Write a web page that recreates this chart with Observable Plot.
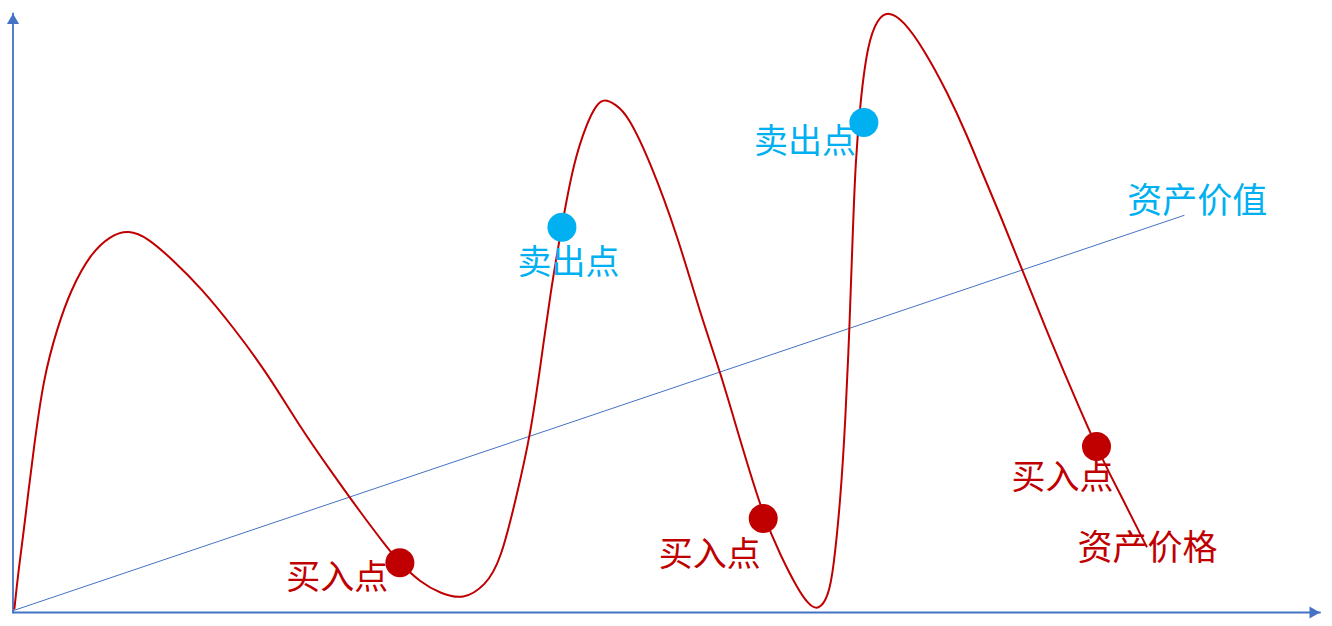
<!DOCTYPE html>
<html>
<head>
<meta charset="utf-8">
<script src="https://cdn.jsdelivr.net/npm/d3@7"></script>
<script src="https://cdn.jsdelivr.net/npm/@observablehq/plot@0.6"></script>
<style>
  html, body { margin: 0; padding: 0; background: #fff; }
  #chart svg { display: block; }
</style>
</head>
<body>
<div id="chart"></div>
<script>
// Asset price curve (time, price) in abstract units (0..100)
const priceT = [0.11, 0.42, 0.80, 1.19, 1.57, 2.33, 3.40, 4.40, 5.93, 7.46, 8.84, 10.29, 12.28, 14.35, 16.87, 19.47, 21.99, 24.29, 26.59, 28.50, 29.57, 31.18, 32.71, 34.47, 36.15, 37.30, 38.60, 39.59, 40.36, 41.12, 41.97, 42.88, 43.96, 44.64, 45.26, 46.10, 47.02, 48.78, 50.84, 52.60, 54.13, 55.66, 57.42, 58.72, 60.02, 60.86, 61.63, 62.39, 62.78, 63.31, 63.69, 64.00, 64.23, 64.46, 64.84, 65.38, 66.14, 66.99, 68.13, 69.66, 71.50, 73.03, 74.02, 75.55, 77.08, 79.38, 81.67, 82.90, 83.97, 84.96, 85.88, 86.73];
const priceV = [0.67, 7.01, 13.19, 20.37, 27.05, 39.23, 47.58, 53.76, 59.93, 62.94, 63.9, 62.60, 58.76, 54.26, 47.58, 39.90, 30.88, 23.71, 16.69, 11.19, 8.35, 5.01, 3.17, 2.1, 4.51, 8.51, 20.03, 29.72, 41.24, 53.42, 64.27, 75.13, 81.97, 84.81, 85.8, 84.81, 83.14, 75.13, 62.94, 49.75, 40.07, 28.55, 16.03, 9.52, 4.01, 1.34, 0.3, 2.67, 7.35, 18.70, 32.05, 47.41, 62.10, 75.46, 85.48, 94.82, 99.17, 100.4, 98.83, 94.16, 86.81, 79.47, 74.12, 66.28, 57.93, 45.41, 33.72, 27.71, 22.87, 18.70, 14.69, 11.02];

// Asset value (straight trend line)
const valueT = [0, 89.6];
const valueV = [0.3, 66.3];

// Buy / sell points
const buyT = [29.6, 57.4, 82.9];
const buyV = [8.3, 15.7, 27.7];
const sellT = [42.0, 65.1];
const sellV = [64.3, 81.8];

// Labels
const buyLabelT = [24.8, 53.3, 80.3];
const buyLabelV = [5.8, 9.5, 22.4];
const sellLabelT = [42.5, 60.6];
const sellLabelV = [58.4, 78.6];
const buyText = "买入点";
const sellText = "卖出点";
const valueLabel = {t: 90.6, v: 68.6, text: "资产价值"};
const priceLabel = {t: 86.8, v: 10.7, text: "资产价格"};

// Axis extents
const axisMax = 100;

const RED = "#C00000";
const CYAN = "#00B0F0";
const AXIS = "#4472C4";
const FONT = "'Noto Sans CJK SC', sans-serif";

const price = priceT.map((t, i) => ({t, v: priceV[i]}));
const value = valueT.map((t, i) => ({t, v: valueV[i]}));
const buys = buyT.map((t, i) => ({t, v: buyV[i]}));
const sells = sellT.map((t, i) => ({t, v: sellV[i]}));
const buyLabels = buyLabelT.map((t, i) => ({t, v: buyLabelV[i], text: buyText}));
const sellLabels = sellLabelT.map((t, i) => ({t, v: sellLabelV[i], text: sellText}));

const chart = Plot.plot({
  width: 1332,
  height: 626,
  margin: 0,
  axis: null,
  style: {background: "#fff", fontFamily: FONT},
  x: {domain: [0, axisMax], range: [12.5, 1319.5]},
  y: {domain: [0, axisMax], range: [612, 13]},
  marks: [
    // axes
    Plot.line([{t: 0, v: 0}, {t: axisMax, v: 0}], {x: "t", y: "v", stroke: AXIS, strokeWidth: 1.8}),
    Plot.line([{t: 0, v: 0}, {t: 0, v: axisMax}], {x: "t", y: "v", stroke: AXIS, strokeWidth: 1.8}),
    Plot.dot([{t: 0, v: axisMax}], {x: "t", y: "v", symbol: "triangle", r: 4.5, fill: AXIS, stroke: "none", dy: 7}),
    Plot.dot([{t: axisMax, v: 0}], {x: "t", y: "v", symbol: "triangle", r: 4.5, fill: AXIS, stroke: "none", rotate: 90, dx: -7}),
    // value line
    Plot.line(value, {x: "t", y: "v", stroke: AXIS, strokeWidth: 1}),
    // price curve
    Plot.line(price, {x: "t", y: "v", stroke: RED, strokeWidth: 2, curve: "basis"}),
    // points
    Plot.dot(buys, {x: "t", y: "v", r: 14.5, fill: RED, stroke: "none"}),
    Plot.dot(sells, {x: "t", y: "v", r: 14.5, fill: CYAN, stroke: "none"}),
    // labels
    Plot.text(buyLabels, {x: "t", y: "v", text: "text", fill: RED, fontSize: 34, textAnchor: "middle", lineAnchor: "middle", fontFamily: FONT}),
    Plot.text(sellLabels, {x: "t", y: "v", text: "text", fill: CYAN, fontSize: 34, textAnchor: "middle", lineAnchor: "middle", fontFamily: FONT}),
    Plot.text([valueLabel], {x: "t", y: "v", text: "text", fill: CYAN, fontSize: 35, textAnchor: "middle", lineAnchor: "middle", fontFamily: FONT}),
    Plot.text([priceLabel], {x: "t", y: "v", text: "text", fill: RED, fontSize: 35, textAnchor: "middle", lineAnchor: "middle", fontFamily: FONT})
  ]
});
document.getElementById("chart").appendChild(chart);
</script>
</body>
</html>
